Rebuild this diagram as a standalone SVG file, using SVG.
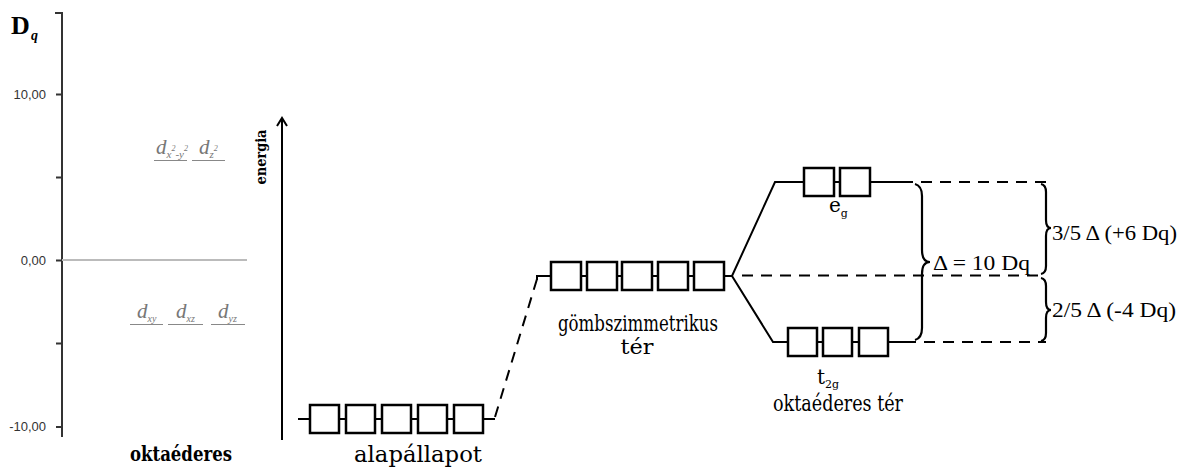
<svg xmlns="http://www.w3.org/2000/svg" width="1179" height="467" viewBox="0 0 1179 467">
<style>
.ax{stroke:#333;stroke-width:2;fill:none}
.tk{font-family:"Liberation Sans",Arial,sans-serif;font-size:13px;fill:#333;text-anchor:end}
.orb{font-family:"Liberation Serif","Times New Roman",serif;font-style:italic;fill:#777}
.ul{stroke:#888;stroke-width:1}
.ln{stroke:#000;stroke-width:2;fill:none}
.bx{fill:#fff;stroke:#000;stroke-width:2.5}
.ds{stroke:#000;stroke-width:2;fill:none;stroke-dasharray:11 8}
.br{stroke:#000;stroke-width:2.2;fill:none}
.cs{font-family:"DejaVu Serif","Century Schoolbook",serif;fill:#000}
.tm{font-family:"Liberation Serif","Times New Roman",serif;fill:#000}
</style>
<rect width="1179" height="467" fill="#fff"/>
<g id="axis">
<path class="ax" d="M55 13H62V437M56 94.5H62M56 177.5H62M56 260.5H62M56 343.5H62M56 427H62"/>
<text class="tk" x="46" y="99">10,00</text>
<text class="tk" x="46" y="265">0,00</text>
<text class="tk" x="46" y="431">-10,00</text>
<text x="11" y="34" font-family="Liberation Serif,serif" font-weight="bold" font-size="26">D</text>
<text x="31" y="40" font-family="Liberation Serif,serif" font-weight="bold" font-style="italic" font-size="14">q</text>
<line x1="62" y1="260" x2="247" y2="260" stroke="#bbb" stroke-width="2"/>
</g>
<g id="orbitals">
<text class="orb" font-size="21"><tspan x="156" y="154">d</tspan><tspan font-size="11" y="158">x</tspan><tspan font-size="8" y="151">2</tspan><tspan font-size="11" y="158">-y</tspan><tspan font-size="8" y="151">2</tspan></text>
<text class="orb" font-size="21"><tspan x="199" y="154">d</tspan><tspan font-size="11" y="158">z</tspan><tspan font-size="8" y="151">2</tspan></text>
<path class="ul" d="M154 160.5H187M192 160.5H225"/>
<text class="orb" font-size="21"><tspan x="137" y="318">d</tspan><tspan font-size="10" y="322">xy</tspan></text>
<text class="orb" font-size="21"><tspan x="176" y="318">d</tspan><tspan font-size="10" y="322">xz</tspan></text>
<text class="orb" font-size="21"><tspan x="218" y="318">d</tspan><tspan font-size="10" y="322">yz</tspan></text>
<path class="ul" d="M130 324.5H163M168 324.5H203M211 324.5H245"/>
<text x="181" y="461" text-anchor="middle" class="cs" font-weight="bold" font-size="20" textLength="102" lengthAdjust="spacingAndGlyphs">oktaéderes</text>
</g>
<g id="energy-arrow">
<line x1="282" y1="440" x2="282" y2="119" class="ln"/>
<path d="M277 126L282 118L287 126" class="ln"/>
<text transform="translate(266,157) rotate(-90)" text-anchor="middle" class="cs" font-weight="bold" font-size="15" textLength="55" lengthAdjust="spacingAndGlyphs">energia</text>
</g>
<g id="connectors">
<path class="ln" d="M490 419H495"/>
<path class="ds" d="M495 417L537 279"/>
<path class="ln" d="M537 280V276H551"/>
<path class="ln" d="M724 276H732L775 182H804M732 276L773 342H788"/>
<path class="ds" d="M742 275.5H1046"/>
<path class="ds" d="M902 182H1046"/>
<path class="ds" d="M905 342H1046"/>
</g>
<g id="alapallapot">
<path class="ln" d="M298 419H490"/>
<rect class="bx" x="310" y="405" width="29" height="28"/>
<rect class="bx" x="346" y="405" width="29" height="28"/>
<rect class="bx" x="382" y="405" width="29" height="28"/>
<rect class="bx" x="418" y="405" width="29" height="28"/>
<rect class="bx" x="454" y="405" width="29" height="28"/>
<text x="418" y="462" text-anchor="middle" class="cs" font-size="23" textLength="128" lengthAdjust="spacingAndGlyphs">alapállapot</text>
</g>
<g id="gombszimmetrikus">
<path class="ln" d="M551 276H724"/>
<rect class="bx" x="551" y="262" width="30" height="28"/>
<rect class="bx" x="587" y="262" width="30" height="28"/>
<rect class="bx" x="622" y="262" width="30" height="28"/>
<rect class="bx" x="658" y="262" width="30" height="28"/>
<rect class="bx" x="694" y="262" width="30" height="28"/>
<text x="638" y="331" text-anchor="middle" class="cs" font-size="22" textLength="160" lengthAdjust="spacingAndGlyphs">gömbszimmetrikus</text>
<text x="637" y="354" text-anchor="middle" class="cs" font-size="21" textLength="33" lengthAdjust="spacingAndGlyphs">tér</text>
</g>
<g id="eg">
<path class="ln" d="M804 182H902"/>
<rect class="bx" x="804" y="168" width="30" height="28"/>
<rect class="bx" x="840" y="168" width="30" height="28"/>
<text class="cs" font-size="20"><tspan x="829" y="212">e</tspan><tspan font-size="11" y="217">g</tspan></text>
</g>
<g id="t2g">
<path class="ln" d="M788 342H905"/>
<rect class="bx" x="788" y="328" width="29" height="28"/>
<rect class="bx" x="823" y="328" width="29" height="28"/>
<rect class="bx" x="859" y="328" width="29" height="28"/>
<text class="cs" font-size="20"><tspan x="817" y="384">t</tspan><tspan font-size="11" y="388">2g</tspan></text>
<text x="838" y="411" text-anchor="middle" class="cs" font-size="22" textLength="130" lengthAdjust="spacingAndGlyphs">oktaéderes tér</text>
</g>
<g id="splitting">
<path class="br" d="M915 184Q922 186 922 196V250Q922 262 930 262Q922 262 922 274V328Q922 338 915 340"/>
<text x="933" y="270" class="tm" font-size="22" textLength="97" lengthAdjust="spacingAndGlyphs">Δ = 10 Dq</text>
<path class="br" d="M1041 184Q1046 185 1046 192V220Q1046 228 1051 228Q1046 228 1046 236V266Q1046 273 1041 274"/>
<text x="1052" y="240" class="tm" font-size="22" textLength="125" lengthAdjust="spacingAndGlyphs">3/5 Δ (+6 Dq)</text>
<path class="br" d="M1041 278Q1046 279 1046 286V302Q1046 310 1051 310Q1046 310 1046 318V333Q1046 340 1041 341"/>
<text x="1052" y="317" class="tm" font-size="22" textLength="124" lengthAdjust="spacingAndGlyphs">2/5 Δ (-4 Dq)</text>
</g>
</svg>
